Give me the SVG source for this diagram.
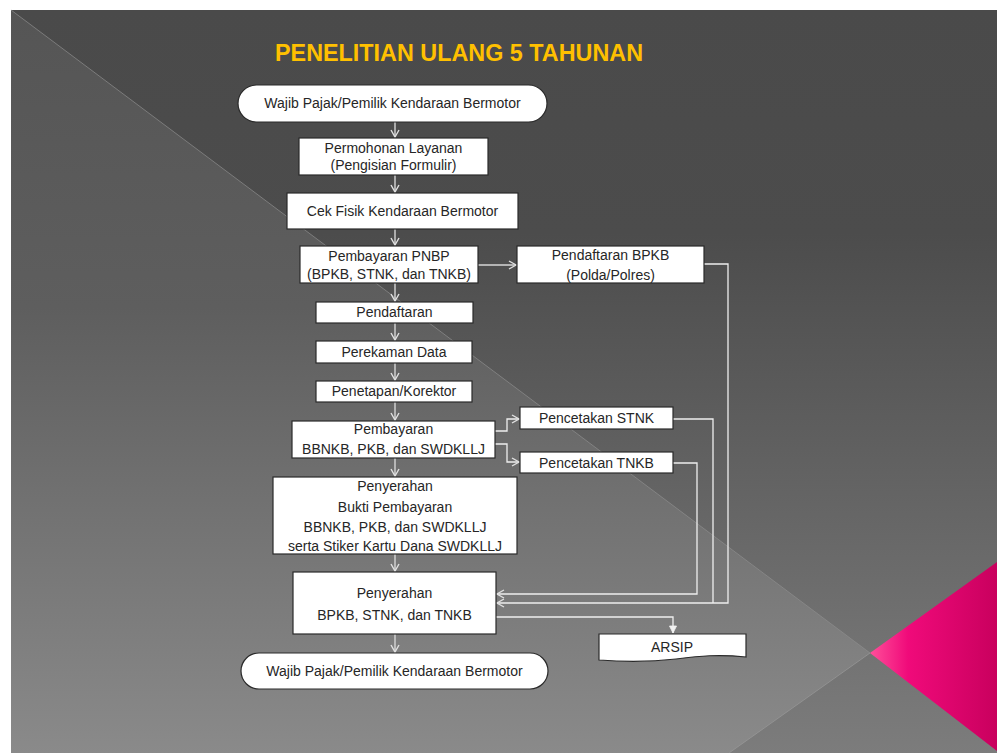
<svg xmlns="http://www.w3.org/2000/svg" width="997" height="753" viewBox="0 0 997 753">
<defs>
<linearGradient id="bgTop" x1="0" y1="10" x2="0" y2="753" gradientUnits="userSpaceOnUse">
<stop offset="0" stop-color="#4a4a4a"/><stop offset="0.3" stop-color="#4c4c4c"/><stop offset="1" stop-color="#7c7c7c"/>
</linearGradient>
<linearGradient id="bgLow" x1="0" y1="10" x2="0" y2="753" gradientUnits="userSpaceOnUse">
<stop offset="0" stop-color="#555555"/><stop offset="0.4" stop-color="#5e5e5e"/><stop offset="1" stop-color="#8a8a8a"/>
</linearGradient>
<linearGradient id="pink" x1="870" y1="0" x2="997" y2="0" gradientUnits="userSpaceOnUse">
<stop offset="0" stop-color="#ff4f9a"/><stop offset="0.3" stop-color="#f00a7a"/><stop offset="1" stop-color="#c9005e"/>
</linearGradient>
<marker id="ah" markerUnits="userSpaceOnUse" markerWidth="10" markerHeight="10" viewBox="0 0 10 10" refX="9" refY="5" orient="auto">
<path d="M2,1 L9,5 L2,9" fill="none" stroke="#e0e0e0" stroke-width="1.4"/>
</marker>
<marker id="ahw" markerUnits="userSpaceOnUse" markerWidth="10" markerHeight="10" viewBox="0 0 10 10" refX="9" refY="5" orient="auto">
<path d="M2,1.5 L9,5 L2,8.5 Z" fill="#f2f2f2" stroke="#f2f2f2" stroke-width="0.8"/>
</marker>
</defs>
<style>
.box{fill:#ffffff;stroke:#2a2a2a;stroke-width:1.2}
.t{font-family:"Liberation Sans",Arial,sans-serif;font-size:14px;fill:#262626;text-anchor:middle}
.c{fill:none;stroke:#d6d6d6;stroke-width:1.4}
.cw{fill:none;stroke:#eeeeee;stroke-width:1.3}
</style>
<rect x="0" y="0" width="997" height="753" fill="#ffffff"/>
<rect x="11" y="10" width="986" height="743" fill="url(#bgTop)"/>
<polygon points="11,10 870,653 729,753 11,753" fill="url(#bgLow)"/>
<line x1="11" y1="10" x2="870" y2="653" stroke="#8e8e8e" stroke-width="1" opacity="0.7"/>
<line x1="870" y1="653" x2="729" y2="753" stroke="#9a9a9a" stroke-width="1" opacity="0.7"/>
<polygon points="870,653 997,562 997,751" fill="url(#pink)"/>

<text x="459" y="61" font-family="'Liberation Sans',Arial,sans-serif" font-size="23" font-weight="bold" fill="#ffc000" text-anchor="middle" textLength="368" lengthAdjust="spacingAndGlyphs">PENELITIAN ULANG 5 TAHUNAN</text>

<g id="connectors">
<path class="c" d="M395,122 V137" marker-end="url(#ah)"/>
<path class="c" d="M395,175 V192" marker-end="url(#ah)"/>
<path class="c" d="M395,229 V245" marker-end="url(#ah)"/>
<path class="c" d="M395,283 V301" marker-end="url(#ah)"/>
<path class="c" d="M395,323 V340" marker-end="url(#ah)"/>
<path class="c" d="M395,363 V380" marker-end="url(#ah)"/>
<path class="c" d="M395,402 V420" marker-end="url(#ah)"/>
<path class="c" d="M395,458 V476" marker-end="url(#ah)"/>
<path class="c" d="M395,554 V571" marker-end="url(#ah)"/>
<path class="c" d="M395,634 V652" marker-end="url(#ah)"/>
<path class="c" d="M478,265 H516" marker-end="url(#ah)"/>
<path class="cw" d="M704,264 H728 V603 H497" marker-end="url(#ah)"/>
<path class="cw" d="M673,419 H713 V603"/>
<path class="cw" d="M673,463 H697 V594 H497" marker-end="url(#ah)"/>
<path class="cw" d="M495,431 H507 V419 H519" marker-end="url(#ah)"/>
<path class="cw" d="M495,444 H507 V462 H519" marker-end="url(#ah)"/>
<path class="cw" d="M496,617 H673 V633" marker-end="url(#ahw)"/>
</g>

<g id="start">
<rect class="box" x="238" y="85" width="309" height="37" rx="18.5"/>
<text class="t" x="392.5" y="108">Wajib Pajak/Pemilik Kendaraan Bermotor</text>
</g>
<g id="permohonan">
<rect class="box" x="299" y="138" width="189" height="37"/>
<text class="t" x="393.5" y="153">Permohonan Layanan</text>
<text class="t" x="393.5" y="170">(Pengisian Formulir)</text>
</g>
<g id="cekfisik">
<rect class="box" x="287" y="193" width="231" height="36"/>
<text class="t" x="402.5" y="216">Cek Fisik Kendaraan Bermotor</text>
</g>
<g id="pnbp">
<rect class="box" x="300" y="246" width="178" height="37"/>
<text class="t" x="389" y="261">Pembayaran PNBP</text>
<text class="t" x="389" y="279">(BPKB, STNK, dan TNKB)</text>
</g>
<g id="bpkb">
<rect class="box" x="517" y="246" width="187" height="37"/>
<text class="t" x="610.5" y="260">Pendaftaran BPKB</text>
<text class="t" x="610.5" y="280">(Polda/Polres)</text>
</g>
<g id="pendaftaran">
<rect class="box" x="316" y="302" width="157" height="21"/>
<text class="t" x="394.5" y="317">Pendaftaran</text>
</g>
<g id="perekaman">
<rect class="box" x="316" y="341" width="156" height="22"/>
<text class="t" x="394" y="357">Perekaman Data</text>
</g>
<g id="penetapan">
<rect class="box" x="316" y="381" width="156" height="21"/>
<text class="t" x="394" y="396">Penetapan/Korektor</text>
</g>
<g id="pembayaran">
<rect class="box" x="292" y="421" width="203" height="37"/>
<text class="t" x="393.5" y="434">Pembayaran</text>
<text class="t" x="393.5" y="454">BBNKB, PKB, dan SWDKLLJ</text>
</g>
<g id="stnk">
<rect class="box" x="520" y="407" width="153" height="22"/>
<text class="t" x="596.5" y="423">Pencetakan STNK</text>
</g>
<g id="tnkb">
<rect class="box" x="520" y="452" width="153" height="21"/>
<text class="t" x="596.5" y="468">Pencetakan TNKB</text>
</g>
<g id="bukti">
<rect class="box" x="273" y="477" width="244" height="77"/>
<text class="t" x="395" y="491">Penyerahan</text>
<text class="t" x="395" y="512">Bukti Pembayaran</text>
<text class="t" x="395" y="532">BBNKB, PKB, dan SWDKLLJ</text>
<text class="t" x="395" y="551">serta Stiker Kartu Dana SWDKLLJ</text>
</g>
<g id="penyerahan">
<rect class="box" x="293" y="572" width="203" height="62"/>
<text class="t" x="394.5" y="598">Penyerahan</text>
<text class="t" x="394.5" y="620">BPKB, STNK, dan TNKB</text>
</g>
<g id="arsip">
<path class="box" d="M599,634 H746 V657 C718,654 700,656 676,659 C650,662 625,662 599,660 Z"/>
<text class="t" x="672" y="652">ARSIP</text>
</g>
<g id="end">
<rect class="box" x="241" y="653" width="307" height="36" rx="18"/>
<text class="t" x="394.5" y="676">Wajib Pajak/Pemilik Kendaraan Bermotor</text>
</g>
</svg>
